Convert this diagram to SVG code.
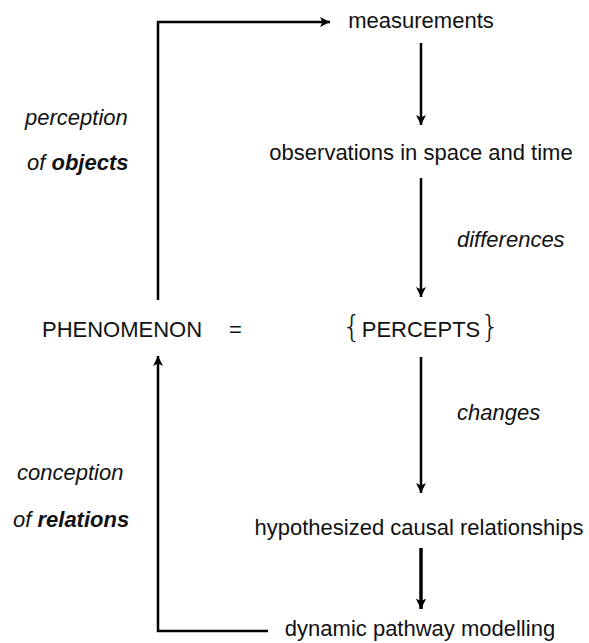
<svg xmlns="http://www.w3.org/2000/svg" width="589" height="643" viewBox="0 0 589 643">
<style>
text{font-family:"Liberation Sans",Arial,sans-serif;font-size:22px;fill:#111}
.c{text-anchor:middle}
.i{font-style:italic}
.b{font-weight:bold}
.br{font-family:"DejaVu Sans","Liberation Sans",sans-serif;font-weight:200;font-size:31px}
.ln{fill:none;stroke:#000;stroke-width:2.5}
.thick{stroke-width:3.5}
</style>
<defs>
<marker id="ah" viewBox="0 0 10 10" refX="10" refY="5" markerWidth="4" markerHeight="4" orient="auto" markerUnits="strokeWidth">
<path d="M0,0 L10,5 L0,10 L2.5,5 z" fill="#000"/>
</marker>
<marker id="ah2" viewBox="0 0 10 10" refX="10" refY="5" markerWidth="3" markerHeight="3" orient="auto" markerUnits="strokeWidth">
<path d="M0,0 L10,5 L0,10 L2.5,5 z" fill="#000"/>
</marker>
</defs>
<g id="connectors">
<path class="ln" d="M158,300 V22 H330" marker-end="url(#ah)"/>
<path class="ln" d="M268,631 H158 V356" marker-end="url(#ah)"/>
<path class="ln" d="M421,43 V125" marker-end="url(#ah)"/>
<path class="ln" d="M421,178 V297" marker-end="url(#ah)"/>
<path class="ln" d="M421,357 V493" marker-end="url(#ah)"/>
<path class="ln thick" d="M421,548 V609" marker-end="url(#ah2)"/>
</g>
<g id="measurements"><text class="c" x="421" y="28">measurements</text></g>
<g id="observations"><text class="c" x="421" y="160">observations in space and time</text></g>
<g id="differences"><text class="i" x="457" y="247">differences</text></g>
<g id="phenomenon"><text x="42" y="337">PHENOMENON</text><text x="229" y="337">=</text></g>
<g id="percepts"><text class="c" x="421" y="337"><tspan class="br">{</tspan>PERCEPTS<tspan class="br">}</tspan></text></g>
<g id="changes"><text class="i" x="457" y="420">changes</text></g>
<g id="hypothesized"><text class="c" x="419" y="535">hypothesized causal relationships</text></g>
<g id="dynamic"><text class="c" x="420" y="636">dynamic pathway modelling</text></g>
<g id="perception"><text class="i" x="25" y="125">perception</text><text class="i" x="27" y="170">of <tspan class="b">objects</tspan></text></g>
<g id="conception"><text class="i" x="17" y="480">conception</text><text class="i" x="13" y="527">of <tspan class="b">relations</tspan></text></g>
</svg>
